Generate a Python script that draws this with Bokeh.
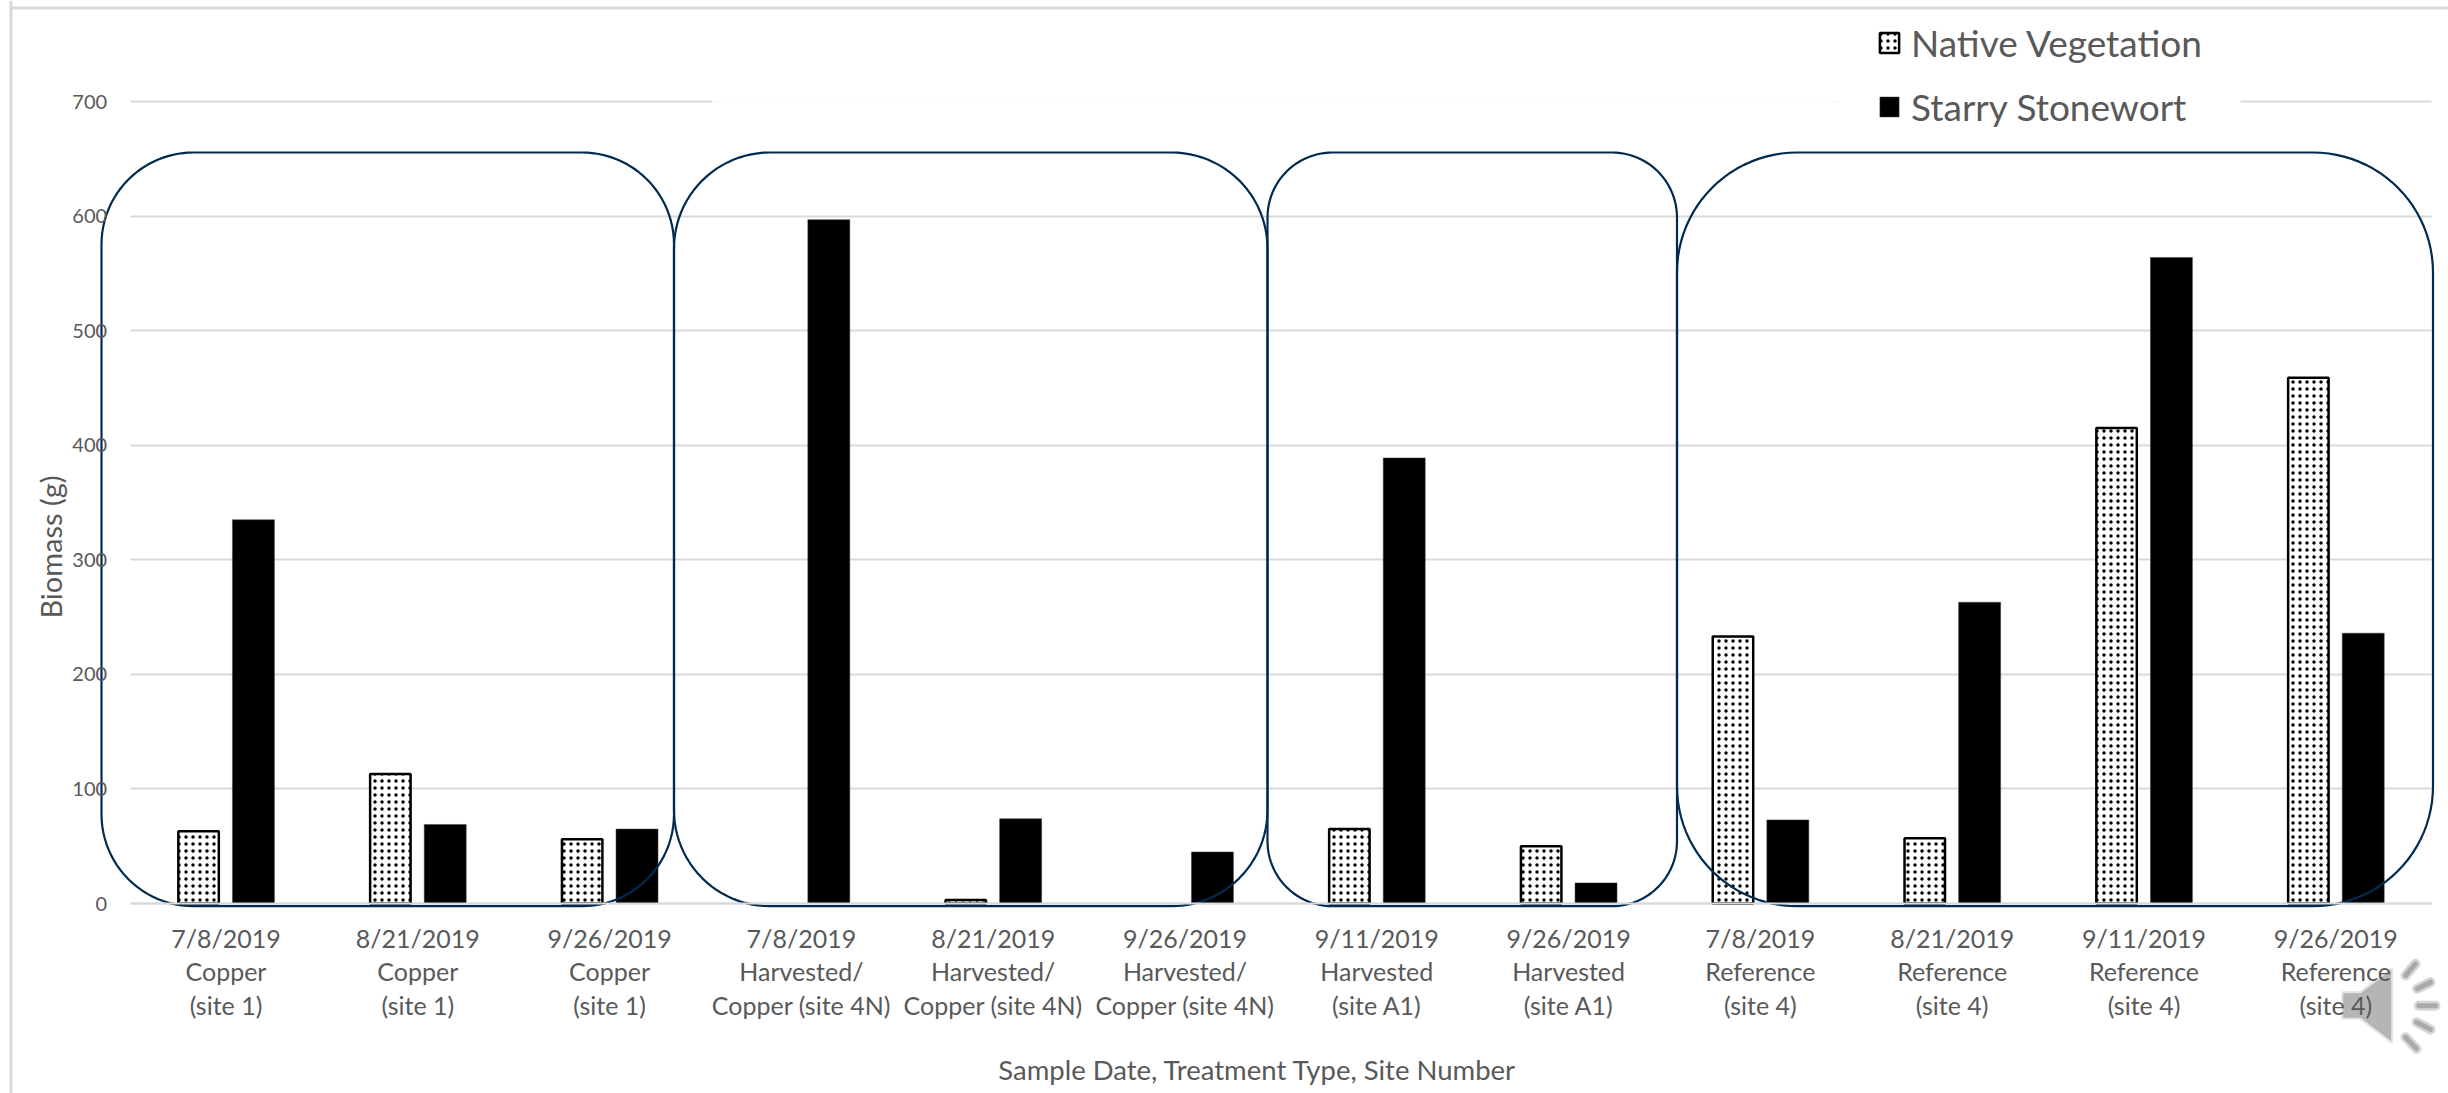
from math import cos, sin, pi

from bokeh.core.properties import value
from bokeh.embed import file_html
from bokeh.models import BoxAnnotation, FixedTicker, Legend, LegendItem, Range1d
from bokeh.plotting import figure
from bokeh.resources import INLINE

# Biomass per sampling event
dates = ["7/8/2019", "8/21/2019", "9/26/2019", "7/8/2019", "8/21/2019", "9/26/2019",
         "9/11/2019", "9/26/2019", "7/8/2019", "8/21/2019", "9/11/2019", "9/26/2019"]
treatments = ["Copper", "Copper", "Copper",
              "Harvested/", "Harvested/", "Harvested/",
              "Harvested", "Harvested",
              "Reference", "Reference", "Reference", "Reference"]
sites = ["(site 1)", "(site 1)", "(site 1)",
         "Copper (site 4N)", "Copper (site 4N)", "Copper (site 4N)",
         "(site A1)", "(site A1)",
         "(site 4)", "(site 4)", "(site 4)", "(site 4)"]
native_vegetation = [63, 113, 56, 0, 3, 0, 65, 50, 233, 57, 415, 459]
starry_stonewort = [335, 69, 65, 597, 74, 45, 389, 18, 73, 263, 564, 236]
y_ticks = [0, 100, 200, 300, 400, 500, 600, 700]

WIDTH, HEIGHT = 2448, 1093
X0, X_STEP = 225.5, 191.8      # pixel centre of the first category, category pitch
Y0, Y_UNIT = 903.0, 1.1455     # pixel row of zero, pixels per gram
GRID = "#d9d9d9"
INK = "#595959"
NAVY = "#002b50"


def cx(px):
    return (px - X0) / X_STEP


def vy(py):
    return (Y0 - py) / Y_UNIT


p = figure(width=WIDTH, height=HEIGHT, output_backend="svg", toolbar_location=None,
           x_range=Range1d(cx(0), cx(WIDTH)), y_range=Range1d(vy(HEIGHT), vy(0)),
           min_border_left=0, min_border_right=0, min_border_top=0, min_border_bottom=0,
           background_fill_color="white", border_fill_color="white", outline_line_color=None)

# Axes sit inside the frame so the treatment outlines can overhang them
xaxis, yaxis = p.xaxis[0], p.yaxis[0]
positions = list(range(len(dates)))
xaxis.fixed_location = 0
xaxis.bounds = (-0.5, 11.5)
xaxis.ticker = FixedTicker(ticks=positions)
xaxis.major_label_overrides = {i: f"{dates[i]}\n{treatments[i]}\n{sites[i]}" for i in positions}
xaxis.major_label_text_font = "Lato"
xaxis.major_label_text_font_size = "25px"
xaxis.major_label_text_color = INK
xaxis.major_label_text_line_height = 1.12
xaxis.major_label_standoff = 13
xaxis.axis_line_color = GRID
xaxis.axis_line_width = 2
xaxis.major_tick_line_color = None
xaxis.minor_tick_line_color = None

yaxis.fixed_location = -0.5
yaxis.ticker = FixedTicker(ticks=y_ticks)
yaxis.major_label_text_font = "Lato"
yaxis.major_label_text_font_size = "20px"
yaxis.major_label_text_color = INK
yaxis.major_label_standoff = 17
yaxis.axis_line_color = None
yaxis.major_tick_line_color = None
yaxis.minor_tick_line_color = None
yaxis.axis_label = "Biomass (g)"
yaxis.axis_label_text_font = "Lato"
yaxis.axis_label_text_font_style = "normal"
yaxis.axis_label_text_font_size = "29px"
yaxis.axis_label_text_color = INK
yaxis.axis_label_standoff = 2

p.xgrid.visible = False
p.ygrid.grid_line_color = GRID
p.ygrid.grid_line_width = 2
p.ygrid.cross_bounds = (-0.5, 11.5)

# The x title is offset from the frame centre, so it is placed as a text glyph
p.text(x=[cx(1257)], y=[vy(1069)], text=["Sample Date, Treatment Type, Site Number"],
       text_font=value("Lato"), text_font_size="27.5px", text_color=INK,
       text_align="center", text_baseline="middle")

# White bands behind the legend interrupt the top gridline
p.quad(left=[cx(712)], right=[cx(1839)], top=[vy(96)], bottom=[vy(108)],
       fill_color="white", fill_alpha=0.88, line_color=None)
p.quad(left=[cx(1839)], right=[cx(2240)], top=[vy(96)], bottom=[vy(108)],
       fill_color="white", line_color=None)

# Paired bars; empty samples draw nothing
native_x = [i - 0.143 for i in positions if native_vegetation[i] > 0]
native_top = [v for v in native_vegetation if v > 0]
starry_x = [i + 0.143 for i in positions]
native_r = p.vbar(x=native_x, top=native_top, width=0.211, bottom=0,
                  fill_color="white", line_color="black", line_width=2.5,
                  hatch_pattern="dot", hatch_color="black", hatch_scale=7, hatch_weight=2.5)
starry_r = p.vbar(x=starry_x, top=starry_stonewort, width=0.219, bottom=0,
                  fill_color="black", line_color="#444444", line_width=0.5)

legend = Legend(items=[LegendItem(label="Native Vegetation", renderers=[native_r]),
                       LegendItem(label="Starry Stonewort", renderers=[starry_r])],
                location=(1877, 964), orientation="vertical", margin=0, padding=0,
                spacing=19, glyph_width=24, glyph_height=25, label_standoff=10,
                background_fill_alpha=0, border_line_color=None,
                label_text_font="Lato", label_text_font_size="37px", label_text_color=INK)
p.add_layout(legend, "center")


def rounded_outline(left, right, radius, top=152, bottom=905.7, steps=24):
    """Closed outline of a rounded rectangle, returned in data coordinates."""
    corners = [(right - radius, top + radius, -pi / 2), (right - radius, bottom - radius, 0),
               (left + radius, bottom - radius, pi / 2), (left + radius, top + radius, pi)]
    xs, ys = [], []
    for ccx, ccy, start in corners:
        for k in range(steps + 1):
            a = start + (pi / 2) * k / steps
            xs.append(cx(ccx + radius * cos(a)))
            ys.append(vy(ccy + radius * sin(a)))
    xs.append(xs[0])
    ys.append(ys[0])
    return xs, ys


# One outline per treatment group, drawn over the bars
for left, right, radius in [(101, 673.5, 92), (673.5, 1267, 96), (1267, 1676.5, 65), (1676.5, 2432.5, 120)]:
    xs, ys = rounded_outline(left, right, radius)
    p.line(xs, ys, line_color=NAVY, line_width=2.2)

# Audio badge in the lower right corner
SPK = 2100, 850


def ix(v):
    return cx(SPK[0] + v / 3)


def iy(v):
    return vy(SPK[1] + v / 3)


cone_x = [725, 780, 875, 875, 780, 725]
cone_y = [425, 425, 352, 578, 505, 505]
p.patch([ix(v) for v in cone_x], [iy(v) for v in cone_y], fill_color="#adadad", fill_alpha=0.9,
        line_color="#e4e4e4", line_width=2)
waves = [((915, 375), (945, 340)), ((950, 415), (990, 395)), ((955, 466), (1005, 466)),
         ((948, 515), (990, 537)), ((915, 560), (948, 595))]
for (a, b), (c, d) in waves:
    p.line([ix(a), ix(c)], [iy(b), iy(d)], line_color="#d6d6d6", line_width=10, line_cap="round")
    p.line([ix(a), ix(c)], [iy(b), iy(d)], line_color="#aaaaaa", line_width=5, line_cap="round")

# Frame of the slide: left and top rules
p.add_layout(BoxAnnotation(left=9, right=12, top=0, bottom=HEIGHT,
                           left_units="canvas", right_units="canvas", top_units="canvas", bottom_units="canvas",
                           fill_color=GRID, fill_alpha=1, line_color=None))
p.add_layout(BoxAnnotation(left=9, right=WIDTH, top=6, bottom=9,
                           left_units="canvas", right_units="canvas", top_units="canvas", bottom_units="canvas",
                           fill_color=GRID, fill_alpha=1, line_color=None))

open("out.html", "w").write(file_html(p, INLINE))
